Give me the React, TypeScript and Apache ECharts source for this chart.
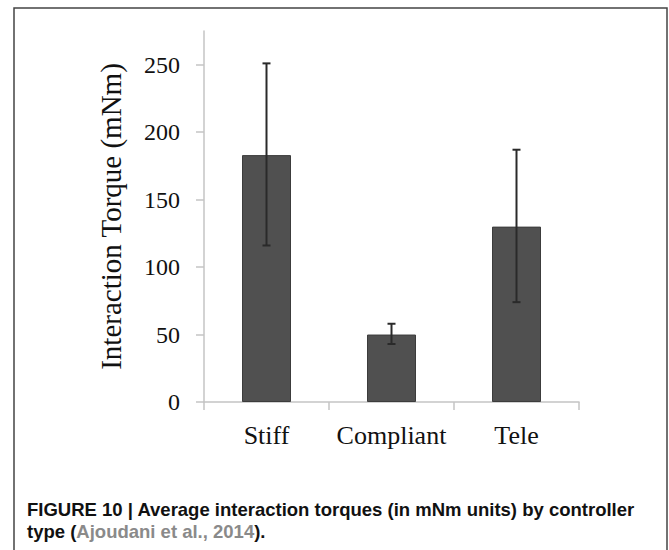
import React, { useEffect, useRef } from "react";
import * as echarts from "echarts";

const categories = ["Stiff", "Compliant", "Tele"];
const means = [183, 50, 130];
const errLow = [116, 43, 74];
const errHigh = [251, 58, 187];
const yTicks = [0, 50, 100, 150, 200, 250];

export default function App() {
  const ref = useRef<HTMLDivElement>(null);
  useEffect(() => {
    if (!ref.current) return;
    const chart = echarts.init(ref.current, null, { renderer: "svg" });
    const errData = categories.map((_, i) => [i, errLow[i], errHigh[i]]);
    const capFont = "bold 18.5px 'Liberation Sans', Arial, sans-serif";
    chart.setOption({
      animation: false,
      backgroundColor: "#ffffff",
      grid: { left: 204, right: 90, top: 31, bottom: 148 },
      xAxis: {
        type: "category",
        data: categories,
        axisLine: { show: true, lineStyle: { color: "#c4c4c4", width: 1.5 } },
        axisTick: { show: true, length: 8, lineStyle: { color: "#c4c4c4", width: 1.5 } },
        axisLabel: { interval: 0, fontFamily: "Liberation Serif", fontSize: 26, color: "#111", margin: 20 },
      },
      yAxis: {
        type: "value",
        min: 0,
        max: 275,
        interval: 50,
        name: "Interaction Torque (mNm)",
        nameLocation: "middle",
        nameGap: 79,
        nameTextStyle: { fontFamily: "Liberation Serif", fontSize: 29, color: "#111" },
        splitLine: { show: false },
        axisLine: { show: true, lineStyle: { color: "#c4c4c4", width: 1.5 } },
        axisTick: { show: true, length: 8, customValues: yTicks, lineStyle: { color: "#c4c4c4", width: 1.5 } },
        axisLabel: { customValues: yTicks, fontFamily: "Liberation Serif", fontSize: 24, color: "#111", margin: 24 },
      },
      series: [
        {
          type: "bar",
          data: means,
          barWidth: 49,
          itemStyle: { color: "#505050", borderColor: "#3c3c3c", borderWidth: 1 },
          z: 2,
        },
        {
          type: "custom",
          data: errData,
          encode: { x: 0, y: [1, 2] },
          z: 5,
          renderItem: (params: any, api: any) => {
            const x = api.value(0);
            const lo = api.coord([x, api.value(1)]);
            const hi = api.coord([x, api.value(2)]);
            const cap = 4;
            const style = { stroke: "#2a2a2a", lineWidth: 2 };
            return {
              type: "group",
              children: [
                { type: "line", shape: { x1: hi[0], y1: hi[1], x2: lo[0], y2: lo[1] }, style },
                { type: "line", shape: { x1: hi[0] - cap, y1: hi[1], x2: hi[0] + cap, y2: hi[1] }, style },
                { type: "line", shape: { x1: lo[0] - cap, y1: lo[1], x2: lo[0] + cap, y2: lo[1] }, style },
              ],
            };
          },
        },
      ],
      graphic: [
        {
          type: "rect",
          shape: { x: 14, y: 8, width: 653, height: 560 },
          style: { fill: "none", stroke: "#444", lineWidth: 1.5 },
          silent: true,
        },
        {
          type: "text",
          x: 27,
          y: 509,
          style: {
            text: "FIGURE 10 | Average interaction torques (in mNm units) by controller",
            font: capFont,
            fill: "#111",
            verticalAlign: "middle",
          },
        },
        {
          type: "text",
          x: 27,
          y: 531,
          style: {
            text: "{b|type (}{g|Ajoudani et al., 2014}{b|).}",
            verticalAlign: "middle",
            rich: {
              b: { font: capFont, fill: "#111" },
              g: { font: capFont, fill: "#8a8a8a" },
            },
          },
        },
      ],
    });
    return () => chart.dispose();
  }, []);
  return (
    <div
      ref={ref}
      style={{ position: "absolute", left: 0, top: 0, width: 669, height: 550 }}
    />
  );
}
